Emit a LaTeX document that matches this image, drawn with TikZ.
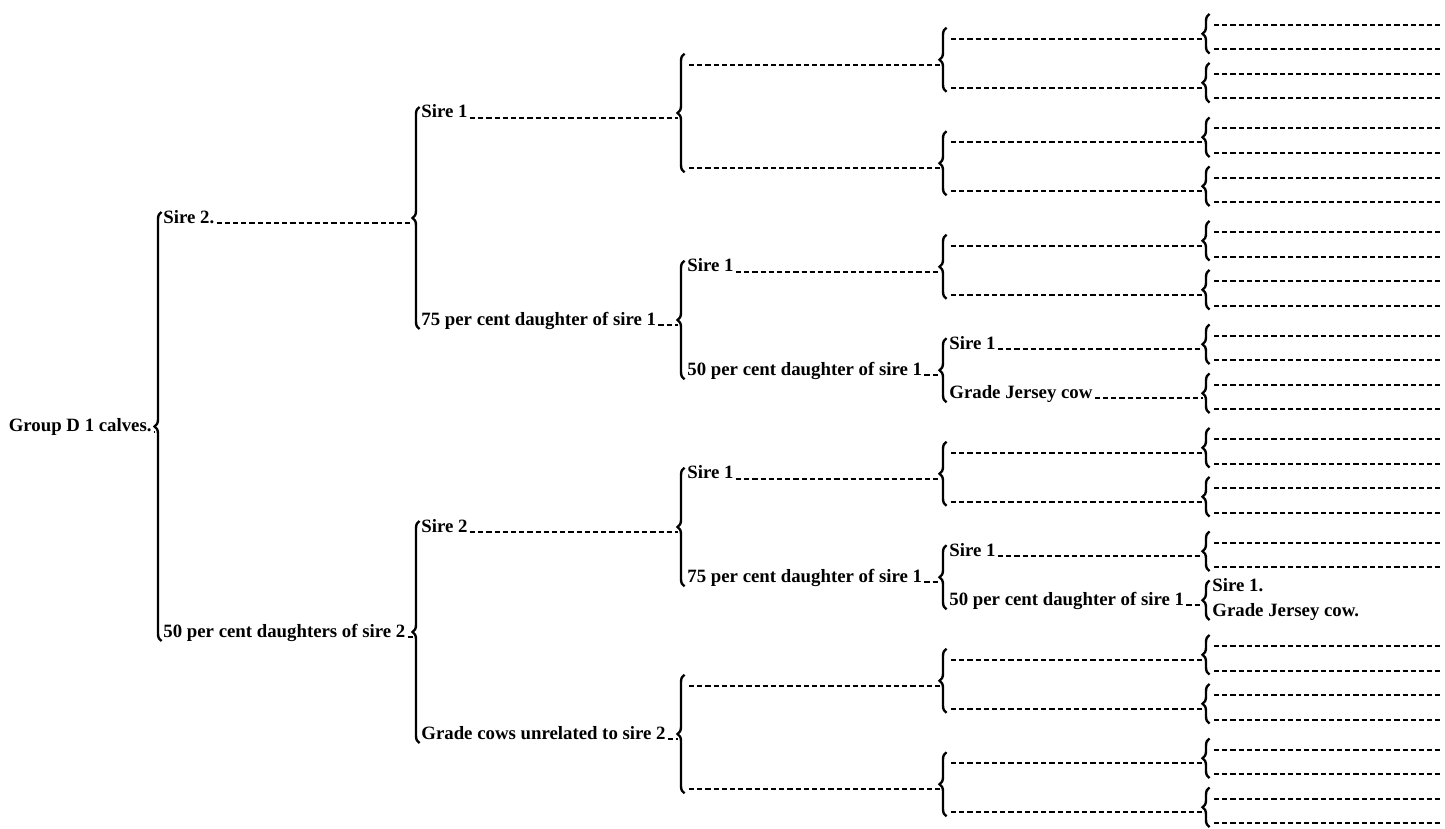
\documentclass[tikz,border=0pt]{standalone}
\usepackage{fontspec}
\setmainfont{Liberation Serif}
\usetikzlibrary{decorations.pathreplacing}

\begin{document}
\begin{tikzpicture}[
 x=0.5pt,y=-0.5pt,
 lbl/.style={anchor=base west,inner sep=0pt,font=\fontsize{9.4}{11}\selectfont\bfseries},
 lead/.style={line width=1pt,dash pattern=on 2.6pt off 1.5pt,shorten <=1pt},
 brc/.style={decorate,decoration={brace,amplitude=3.5pt},line width=1.2pt}
]
\useasboundingbox (0,0) rectangle (1445,829);
% last two columns: small braces and blank lines
\foreach \q in {0,...,7}
 \foreach \p in {0,1}{
  \pgfmathsetmacro\ya{25+103.5*\q+49*\p}
  \pgfmathsetmacro\yb{\ya+24.5}
  \pgfmathsetmacro\ym{\ya+13.75}
  \draw[brc] (1209.5,{\yb+4}) -- (1209.5,{\ya-11});
  \coordinate (t5-\q-\p) at (1202.5,\ym);
  \ifnum\q\p=51\else
   \coordinate (lfa-\q-\p) at (1212,\ya); \coordinate (lfaend-\q-\p) at (1440,\ya);
   \coordinate (lfb-\q-\p) at (1212,\yb); \coordinate (lfbend-\q-\p) at (1440,\yb);
   \draw[lead] (lfa-\q-\p) -- (lfaend-\q-\p); \draw[lead] (lfb-\q-\p) -- (lfbend-\q-\p);
  \fi
  \ifnum\q=3\else\ifnum\q=5\else
   \coordinate (m-\q-\p) at (949,\ym);
   \draw[lead] (m-\q-\p) -- (t5-\q-\p);
  \fi\fi
 }
% third column
\foreach \q in {0,...,7}{
 \pgfmathsetmacro\ya{38.75+103.5*\q}
 \draw[brc] (946.5,{\ya+53}) -- (946.5,{\ya-11});
 \coordinate (t4-\q) at (939.5,{\ya+26});
}
\foreach \q in {0,1,6,7}{
 \coordinate (n-\q) at (687,{64.75+103.5*\q});
 \draw[lead] (n-\q) -- (t4-\q);
}
% second column
\foreach \r in {0,...,3}{
 \pgfmathsetmacro\ya{64.75+207*\r}
 \draw[brc] (684.5,{\ya+107.5}) -- (684.5,{\ya-11});
 \coordinate (t3-\r) at (677.5,{\ya+53.25});
}
% first column
\foreach \s in {0,1}{
 \pgfmathsetmacro\ya{118+414*\s}
 \draw[brc] (419.5,{\ya+211}) -- (419.5,{\ya-11});
 \coordinate (t2-\s) at (412.5,{\ya+105});
}
\draw[brc] (161.5,641) -- (161.5,212);
\coordinate (t1) at (154.5,431.5);

\node[lbl,anchor=base east] (calves) at (152,431.5) {Group D 1 calves.};
\node[lbl] (sireTwo) at (163,223) {Sire 2.};
\node[lbl] (dausTwo) at (163,637) {50 per cent daughters of sire 2};
\node[lbl] (sireOneA) at (421,118) {Sire 1};
\node[lbl] (dauSevFiveA) at (421,325) {75 per cent daughter of sire 1};
\node[lbl] (sireTwoB) at (421,532) {Sire 2};
\node[lbl] (gradeCows) at (421,739) {Grade cows unrelated to sire 2};
\node[lbl] (sireOneC) at (687,271.75) {Sire 1};
\node[lbl] (dauFiftyA) at (687,375.25) {50 per cent daughter of sire 1};
\node[lbl] (sireOneD) at (687,478.75) {Sire 1};
\node[lbl] (dauSevFiveB) at (687,582.25) {75 per cent daughter of sire 1};
\node[lbl] (sireOneE) at (949,349.25) {Sire 1};
\node[lbl] (jerseyA) at (949,398.25) {Grade Jersey cow};
\node[lbl] (sireOneF) at (949,556.25) {Sire 1};
\node[lbl] (dauFiftyB) at (949,605.25) {50 per cent daughter of sire 1};
\node[lbl] (sireOneG) at (1212,591.5) {Sire 1.};
\node[lbl] (jerseyB) at (1212,616) {Grade Jersey cow.};

\draw[lead] (calves.base east) -- (t1);
\draw[lead] (sireTwo.base east) -- (t2-0); \draw[lead] (dausTwo.base east) -- (t2-1);
\draw[lead] (sireOneA.base east) -- (t3-0); \draw[lead] (dauSevFiveA.base east) -- (t3-1);
\draw[lead] (sireTwoB.base east) -- (t3-2); \draw[lead] (gradeCows.base east) -- (t3-3);
\draw[lead] (sireOneC.base east) -- (t4-2); \draw[lead] (dauFiftyA.base east) -- (t4-3);
\draw[lead] (sireOneD.base east) -- (t4-4); \draw[lead] (dauSevFiveB.base east) -- (t4-5);
\draw[lead] (sireOneE.base east) -- (t5-3-0); \draw[lead] (jerseyA.base east) -- (t5-3-1);
\draw[lead] (sireOneF.base east) -- (t5-5-0); \draw[lead] (dauFiftyB.base east) -- (t5-5-1);
\end{tikzpicture}
\end{document}
